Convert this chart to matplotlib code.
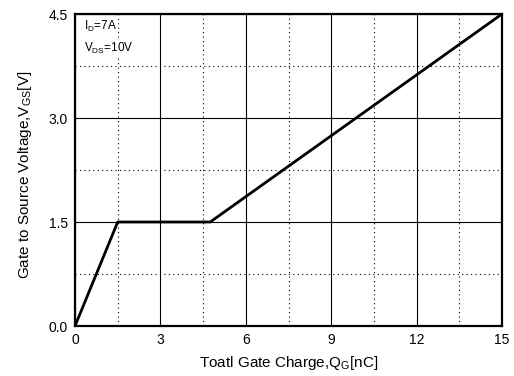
import matplotlib
matplotlib.use("Agg")
import matplotlib.pyplot as plt
from matplotlib.ticker import MultipleLocator

qg = [0, 1.5, 4.75, 15]
vgs = [0, 1.5, 1.5, 4.5]
xticks = [0, 3, 6, 9, 12, 15]
yticks = [0.0, 1.5, 3.0, 4.5]

plt.rcParams['font.family'] = ['Liberation Sans', 'DejaVu Sans']
plt.rcParams['mathtext.default'] = 'regular'

fig = plt.figure(figsize=(5.14, 3.76), dpi=100)
ax = fig.add_axes([75/514, 1-326/376, (502-75)/514, (326-14)/376])

ax.plot(qg, vgs, color='black', lw=2, zorder=3)
ax.set_xlim(0, 15)
ax.set_ylim(0, 4.5)
ax.set_xticks(xticks)
ax.set_xticklabels([str(t) for t in xticks])
ax.set_yticks(yticks)
ax.set_yticklabels([f"{t:.1f}" for t in yticks])
ax.xaxis.set_minor_locator(MultipleLocator(1.5))
ax.yaxis.set_minor_locator(MultipleLocator(0.75))
ax.grid(which='major', color='black', lw=0.8, ls='-')
ax.grid(which='minor', color='black', lw=0.8, ls=(0, (1, 3)))
ax.tick_params(which='both', length=0, labelsize=10, pad=5)
for s in ax.spines.values():
    s.set_linewidth(1.6)

ax.set_xlabel('Toatl Gate Charge,Q$_{G}$[nC]', fontsize=11, labelpad=5)
ax.set_ylabel('Gate to Source Voltage,V$_{GS}$[V]', fontsize=11)
ax.yaxis.set_label_coords(-0.095, 0.485)

ax.text(0.02, 0.985, 'I$_{D}$=7A', transform=ax.transAxes, fontsize=8.5, va='top', ha='left',
        bbox=dict(facecolor='white', edgecolor='none', pad=1))
ax.text(0.02, 0.915, 'V$_{DS}$=10V', transform=ax.transAxes, fontsize=8.5, va='top', ha='left',
        bbox=dict(facecolor='white', edgecolor='none', pad=1))

fig.savefig('out.png', dpi=100)
